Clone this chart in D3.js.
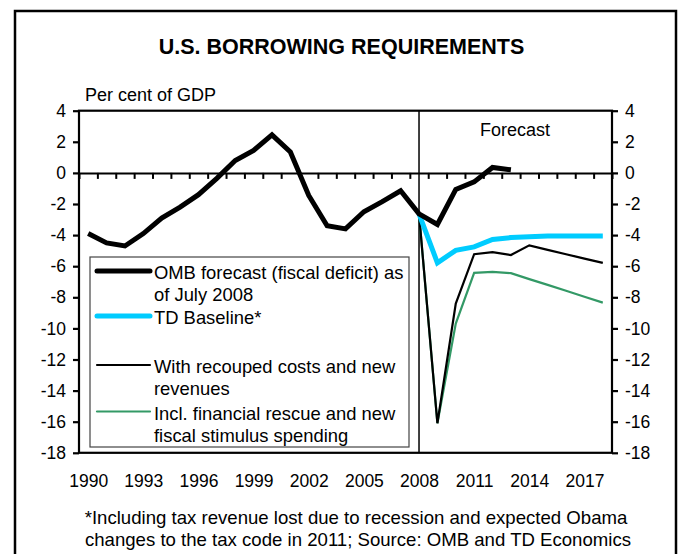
<!DOCTYPE html>
<html>
<head>
<meta charset="utf-8">
<script src="https://cdn.jsdelivr.net/npm/d3@7"></script>
<style>
  html, body { margin: 0; padding: 0; background: #fff; }
  svg { display: block; font-family: "Liberation Sans", Arial, sans-serif; }
</style>
</head>
<body>
<svg id="chart" width="683" height="554"></svg>
<script>
// ---- data ----
const years = [1990,1991,1992,1993,1994,1995,1996,1997,1998,1999,2000,2001,2002,2003,2004,
               2005,2006,2007,2008,2009,2010,2011,2012,2013,2014,2015,2016,2017,2018];
const ombYears = [1990,1991,1992,1993,1994,1995,1996,1997,1998,1999,2000,2001,2002,2003,2004,
                  2005,2006,2007,2008,2009,2010,2011,2012,2013];
const ombValues = [-3.9,-4.5,-4.7,-3.9,-2.9,-2.2,-1.4,-0.35,0.8,1.45,2.45,1.35,-1.45,-3.4,-3.6,
                   -2.5,-1.85,-1.15,-2.63,-3.32,-1.06,-0.58,0.35,0.2];
const fcYears = [2008,2009,2010,2011,2012,2013,2014,2015,2016,2017,2018];
const tdBaseline = [-2.63,-5.78,-4.98,-4.76,-4.28,-4.16,-4.1,-4.06,-4.05,-4.05,-4.05];
const recouped   = [-2.63,-16.1,-8.4,-5.23,-5.1,-5.28,-4.66,-4.95,-5.23,-5.51,-5.79];
const rescue     = [-2.63,-16.1,-9.69,-6.43,-6.37,-6.45,-6.83,-7.2,-7.58,-7.96,-8.34];
const yTicks = [4,2,0,-2,-4,-6,-8,-10,-12,-14,-16,-18];
const xLabels = [1990,1993,1996,1999,2002,2005,2008,2011,2014,2017];
const seriesNames = ["OMB forecast (fiscal deficit) as|of July 2008", "TD Baseline*",
                     "With recouped costs and new|revenues", "Incl. financial rescue and new|fiscal stimulus spending"];
const seriesColors = ["#000000", "#00ccff", "#000000", "#339966"];
const seriesWidths = [5, 5, 2.2, 2.2];

const svg = d3.select("#chart");

// outer frame
svg.append("rect").attr("x", 15).attr("y", 11).attr("width", 661).attr("height", 580)
  .attr("fill", "none").attr("stroke", "#000").attr("stroke-width", 2.5);

// title
svg.append("text").attr("x", 341.5).attr("y", 54).attr("text-anchor", "middle")
  .attr("font-size", 21.5).attr("font-weight", "bold").text("U.S. BORROWING REQUIREMENTS");

const x = d3.scaleLinear().domain([1989.5, 2018.5]).range([79, 612]);
const y = d3.scaleLinear().domain([-18, 4]).range([452.8, 110.7]);

// y axes (hyphen-minus labels as in the original)
const fmt = d => String(d);
const leftAxis = d3.axisLeft(y).tickValues(yTicks).tickSize(6).tickPadding(7).tickFormat(fmt);
const rightAxis = d3.axisRight(y).tickValues(yTicks).tickSize(6).tickPadding(7).tickFormat(fmt);
const gl = svg.append("g").attr("transform", `translate(${x.range()[0]},0)`).call(leftAxis);
const gr = svg.append("g").attr("transform", `translate(${x.range()[1]},0)`).call(rightAxis);
[gl, gr].forEach(g => {
  g.select(".domain").remove();
  g.selectAll("line").attr("stroke", "#000").attr("stroke-width", 2.2);
  g.selectAll("text").attr("font-size", 17.5).attr("fill", "#000")
    .attr("font-family", "'Liberation Sans', Arial, sans-serif");
});

// plot frame
svg.append("rect").attr("x", x(1989.5)).attr("y", y(4))
  .attr("width", x(2018.5) - x(1989.5)).attr("height", y(-18) - y(4))
  .attr("fill", "none").attr("stroke", "#000").attr("stroke-width", 2.2);

// zero line with category ticks
const boundaries = years.slice(0, -1).map(v => v + 0.5);
const gx = svg.append("g").attr("transform", `translate(0,${y(0)})`)
  .call(d3.axisBottom(x).tickValues(boundaries).tickSize(6).tickFormat(""));
gx.select(".domain").attr("stroke", "#000").attr("stroke-width", 2);
gx.selectAll("line").attr("stroke", "#000").attr("stroke-width", 2);

// year labels
const gxl = svg.append("g").attr("transform", `translate(0,${y(-18)})`)
  .call(d3.axisBottom(x).tickValues(xLabels).tickSize(0).tickPadding(22).tickFormat(fmt));
gxl.select(".domain").remove();
gxl.selectAll("text").attr("font-size", 17.5).attr("fill", "#000")
  .attr("font-family", "'Liberation Sans', Arial, sans-serif");

// forecast divider
svg.append("line").attr("x1", x(2008)).attr("x2", x(2008)).attr("y1", y(4)).attr("y2", y(-18))
  .attr("stroke", "#000").attr("stroke-width", 1.5);

// texts
svg.append("text").attr("x", 85).attr("y", 101).attr("font-size", 18).text("Per cent of GDP");
svg.append("text").attr("x", 515).attr("y", 136).attr("text-anchor", "middle").attr("font-size", 18).text("Forecast");

// lines
const line = d3.line().x(d => x(d[0])).y(d => y(d[1]));
const dataSets = [
  ombYears.map((yr, i) => [yr, ombValues[i]]),
  fcYears.map((yr, i) => [yr, tdBaseline[i]]),
  fcYears.map((yr, i) => [yr, recouped[i]]),
  fcYears.map((yr, i) => [yr, rescue[i]])
];
[3, 2, 1, 0].forEach(i => {
  svg.append("path").datum(dataSets[i]).attr("d", line)
    .attr("fill", "none").attr("stroke", seriesColors[i]).attr("stroke-width", seriesWidths[i])
    .attr("stroke-linejoin", "miter").attr("stroke-linecap", "butt");
});

// legend
const lg = svg.append("g");
lg.append("rect").attr("x", 90).attr("y", 257).attr("width", 319).attr("height", 190)
  .attr("fill", "#fff").attr("stroke", "#444").attr("stroke-width", 1.2);
const rowBaselines = [279, 324, 373, 419.5];
seriesNames.forEach((nm, i) => {
  const b = rowBaselines[i];
  lg.append("line").attr("x1", 97).attr("x2", 150).attr("y1", b - 8).attr("y2", b - 8)
    .attr("stroke", seriesColors[i]).attr("stroke-width", seriesWidths[i]).attr("stroke-linecap", "round");
  nm.split("|").forEach((t, j) => {
    lg.append("text").attr("x", 154).attr("y", b + j * 22.3).attr("font-size", 18.4).text(t);
  });
});

// footnote
svg.append("text").attr("x", 356).attr("y", 524).attr("text-anchor", "middle").attr("font-size", 18.6)
  .text("*Including tax revenue lost due to recession and expected Obama");
svg.append("text").attr("x", 358).attr("y", 546).attr("text-anchor", "middle").attr("font-size", 18.6)
  .text("changes to the tax code in 2011; Source: OMB and TD Economics");
</script>
</body>
</html>
